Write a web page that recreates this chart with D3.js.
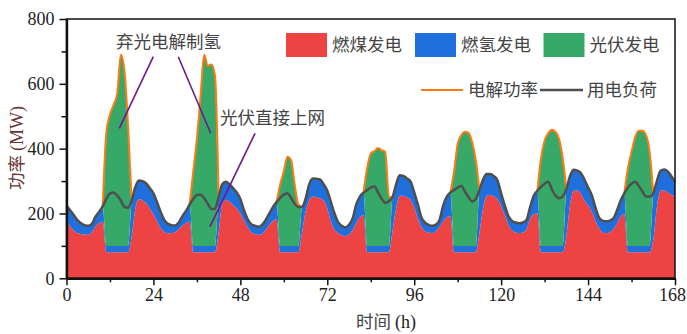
<!DOCTYPE html>
<html>
<head>
<meta charset="utf-8">
<script src="https://cdn.jsdelivr.net/npm/d3@7"></script>
<style>
  body { margin: 0; background: #fff; }
  svg { display: block; }
  .tick text { font-family: "Liberation Serif", "DejaVu Serif", serif; font-size: 18px; fill: #222; }
  .cjk { font-family: "Noto Sans CJK SC", sans-serif; fill: #444; }
</style>
</head>
<body>
<div id="chart"></div>
<script>
// hourly values, 0 ... 168 h (MW)
const hours = d3.range(0, 169);

const coal = [
  180,160,147,140,137,135,134,142,160,170,175, 80,80,80,80,80,80,80, 130,215,245,240,232,215,
  198,176,155,143,139,139,142,152,163,170,175, 80,80,80,80,80,80,80, 140,230,242,236,226,215,
  200,178,158,142,137,134,137,150,165,177,182, 80,80,80,80,80,80, 140,205,240,252,250,246,240,
  215,175,150,140,133,130,135,148,170,188,195, 80,80,80,80,80,80,80, 145,215,255,255,250,242,
  218,185,158,145,141,139,145,158,175,188,192, 80,80,80,80,80,80,80, 140,215,255,258,252,245,
  222,195,165,148,141,139,141,152,182,198,200, 80,80,80,80,80,80,80, 130,225,270,272,262,240,
  225,206,178,155,142,139,142,152,170,190,198, 80,80,80,80,80,80,80, 120,220,270,272,265,258,
  250
];

const hydrogen = [
  45,50,48,40,33,29,28,26,30,35,47, 20,20,20,20,20,20,20, 110,67,57,60,61,63,
  64,59,50,37,29,25,21,20,29,38,53, 20,20,20,20,20,20,20, 110,60,56,54,52,50,
  45,32,25,25,25,25,28,30,35,43,53, 20,20,20,20,20,20, 80,40,50,56,57,59,50,
  55,60,50,33,29,27,30,37,58,64,69, 20,20,20,20,20,20,20, 105,75,63,61,58,56,
  47,43,30,27,24,23,21,22,50,64,73, 20,20,20,20,20,20,20, 132,90,67,64,63,57,
  40,30,27,29,31,31,31,28,38,57,70, 20,20,20,20,20,20,20, 145,90,65,60,63,65,
  55,51,42,33,36,37,36,33,40,50,64, 20,20,20,20,20,20,20, 142,80,62,64,65,57,
  48
];

const pv = [
  0,0,0,0,0,0,0,0,0,0,0, 350,405,435,470,590,540,370, 0,0,0,0,0,0,
  0,0,0,0,0,0,0,0,0,0,0, 230,330,460,590,555,560,525, 0,0,0,0,0,0,
  0,0,0,0,0,0,0,0,0,0,0, 190,230,275,265,190,128, 0,0,0,0,0,0,0,
  0,0,0,0,0,0,0,0,0,0,0, 240,285,292,302,295,290,152, 0,0,0,0,0,0,
  0,0,0,0,0,0,0,0,0,0,0, 230,315,342,352,348,320,265, 0,0,0,0,0,0,
  0,0,0,0,0,0,0,0,0,0,0, 270,325,347,358,352,330,270, 0,0,0,0,0,0,
  0,0,0,0,0,0,0,0,0,0,0, 240,290,335,355,355,342,290, 0,0,0,0,0,0,
  0
];

const load = [
  225,210,195,180,170,164,162,168,190,205,222, 245,262,265,255,240,220,218, 240,282,302,300,293,278,
  262,235,205,180,168,164,163,172,192,208,228, 245,257,258,248,230,214,214, 250,290,298,290,278,265,
  245,210,183,167,162,159,165,180,200,220,235, 248,258,262,248,230,220, 220,245,290,308,307,305,290,
  270,235,200,173,162,157,165,185,228,252,264, 272,280,283,265,245,233,238, 250,290,318,316,308,298,
  265,228,188,172,165,162,166,180,225,252,265, 272,280,285,268,250,237,245, 272,305,322,322,315,302,
  262,225,192,177,172,170,172,180,220,255,270, 282,292,298,275,255,247,252, 275,315,335,332,325,305,
  280,257,220,188,178,176,178,185,210,240,262, 280,292,298,285,268,252,252, 262,300,332,336,330,315,
  298
];

const xTicks = [0, 24, 48, 72, 96, 120, 144, 168];
const yTicks = [0, 200, 400, 600, 800];

const seriesKeys = ["coal", "hydrogen", "pv"];
const seriesNames = ["燃煤发电", "燃氢发电", "光伏发电"];
const seriesColors = ["#ee4343", "#1f6fdc", "#36a968"];

// build rows for the stack
const rows = hours.map((h, i) => ({hour: h, coal: coal[i], hydrogen: hydrogen[i], pv: pv[i], load: load[i]}));

const W = 687, H = 334;
const margin = {top: 19, right: 12, bottom: 55.7, left: 66.5};

const svg = d3.select("#chart").append("svg")
  .attr("width", W)
  .attr("height", H);

const x = d3.scaleLinear().domain([0, 168]).range([margin.left, W - margin.right]);
const y = d3.scaleLinear().domain([0, 800]).range([H - margin.bottom, margin.top]);

// stacked areas
const stacked = d3.stack().keys(seriesKeys)(rows);

const area = d3.area()
  .x(d => x(d.data.hour))
  .y0(d => y(d[0]))
  .y1(d => y(d[1]))
  .curve(d3.curveMonotoneX);

svg.append("g")
  .selectAll("path")
  .data(stacked)
  .join("path")
  .attr("fill", (d, i) => seriesColors[i])
  .attr("d", area);

// electrolysis line = top of the stack while pv is running
const stackTop = stacked[stacked.length - 1];
const orangeLine = d3.line()
  .defined((d, i) => pv[i] > 0 || pv[i - 1] > 0 || pv[i + 1] > 0)
  .x(d => x(d.data.hour))
  .y(d => y(d[1]))
  .curve(d3.curveMonotoneX);

svg.append("path")
  .datum(stackTop)
  .attr("fill", "none")
  .attr("stroke", "#ff7a12")
  .attr("stroke-width", 2)
  .attr("d", orangeLine);

// load line
const loadLine = d3.line()
  .x(d => x(d.hour))
  .y(d => y(d.load))
  .curve(d3.curveMonotoneX);

svg.append("path")
  .datum(rows)
  .attr("fill", "none")
  .attr("stroke", "#4f4f4f")
  .attr("stroke-width", 2.5)
  .attr("d", loadLine);

// annotations
const purple = "#6a1a8c";
svg.append("text").attr("class", "cjk")
  .attr("x", 116).attr("y", 48).attr("font-size", 17.5)
  .text("弃光电解制氢");
svg.append("text").attr("class", "cjk")
  .attr("x", 220).attr("y", 124).attr("font-size", 17.5)
  .text("光伏直接上网");

const annoLines = [[153.3, 56.7, 119.3, 128.3], [178.3, 56.7, 210.7, 133.3], [255, 133.3, 210, 226.7]];
svg.append("g")
  .selectAll("line")
  .data(annoLines)
  .join("line")
  .attr("x1", d => d[0]).attr("y1", d => d[1])
  .attr("x2", d => d[2]).attr("y2", d => d[3])
  .attr("stroke", purple)
  .attr("stroke-width", 1.6);

// legend
const legend = svg.append("g");
const legX = [286, 415, 543.5];
seriesNames.forEach((name, i) => {
  legend.append("rect")
    .attr("x", legX[i]).attr("y", 33)
    .attr("width", 41).attr("height", 24)
    .attr("fill", seriesColors[i]);
  legend.append("text").attr("class", "cjk")
    .attr("x", legX[i] + 46).attr("y", 51)
    .attr("font-size", 17.5)
    .text(name);
});

legend.append("line")
  .attr("x1", 421).attr("x2", 463).attr("y1", 90).attr("y2", 90)
  .attr("stroke", "#ff7a12").attr("stroke-width", 2);
legend.append("text").attr("class", "cjk")
  .attr("x", 468).attr("y", 96).attr("font-size", 17.5)
  .text("电解功率");
legend.append("line")
  .attr("x1", 540).attr("x2", 583).attr("y1", 90).attr("y2", 90)
  .attr("stroke", "#4f4f4f").attr("stroke-width", 2.5);
legend.append("text").attr("class", "cjk")
  .attr("x", 587).attr("y", 96).attr("font-size", 17.5)
  .text("用电负荷");

// frame (top + right)
svg.append("rect")
  .attr("x", margin.left).attr("y", margin.top)
  .attr("width", W - margin.right - margin.left)
  .attr("height", H - margin.bottom - margin.top)
  .attr("fill", "none")
  .attr("stroke", "#111")
  .attr("stroke-width", 1.5);

// axes, major + minor ticks
const xAxis = d3.axisBottom(x).tickValues(xTicks).tickSize(7).tickPadding(3).tickSizeOuter(0);
const xMinor = d3.axisBottom(x).tickValues(xTicks.slice(0, -1).map(t => t + 12)).tickSize(4).tickFormat("").tickSizeOuter(0);
const yAxis = d3.axisLeft(y).tickValues(yTicks).tickSize(7).tickPadding(5).tickSizeOuter(0);
const yMinor = d3.axisLeft(y).tickValues(yTicks.slice(0, -1).map(t => t + 100)).tickSize(5).tickFormat("").tickSizeOuter(0);

const gx = svg.append("g").attr("transform", `translate(0,${H - margin.bottom})`);
gx.call(xMinor);
gx.append("g").call(xAxis);
// keep the last label inside the page
gx.selectAll(".tick text").filter(d => d === 168).attr("dx", -3);
const gy = svg.append("g").attr("transform", `translate(${margin.left},0)`);
gy.call(yMinor);
gy.append("g").call(yAxis);

svg.selectAll(".domain").attr("stroke", "#111").attr("stroke-width", 2.2);
svg.selectAll(".tick line").attr("stroke", "#111").attr("stroke-width", 1.5);

// axis titles
const yTitle = svg.append("text")
  .attr("transform", `translate(23,148) rotate(-90)`)
  .attr("text-anchor", "middle")
  .attr("fill", "#6b3434");
yTitle.append("tspan").attr("font-family", "Noto Sans CJK SC, sans-serif").attr("font-size", 17.5).text("功率 ");
yTitle.append("tspan").attr("font-family", "Liberation Serif, serif").attr("font-size", 18).text("(MW)");

const xTitle = svg.append("text")
  .attr("x", 386).attr("y", 328)
  .attr("text-anchor", "middle");
xTitle.append("tspan").attr("font-family", "Noto Sans CJK SC, sans-serif").attr("font-size", 17.5).attr("fill", "#444").text("时间 ");
xTitle.append("tspan").attr("font-family", "Liberation Serif, serif").attr("font-size", 18).attr("fill", "#222").text("(h)");
</script>
</body>
</html>
